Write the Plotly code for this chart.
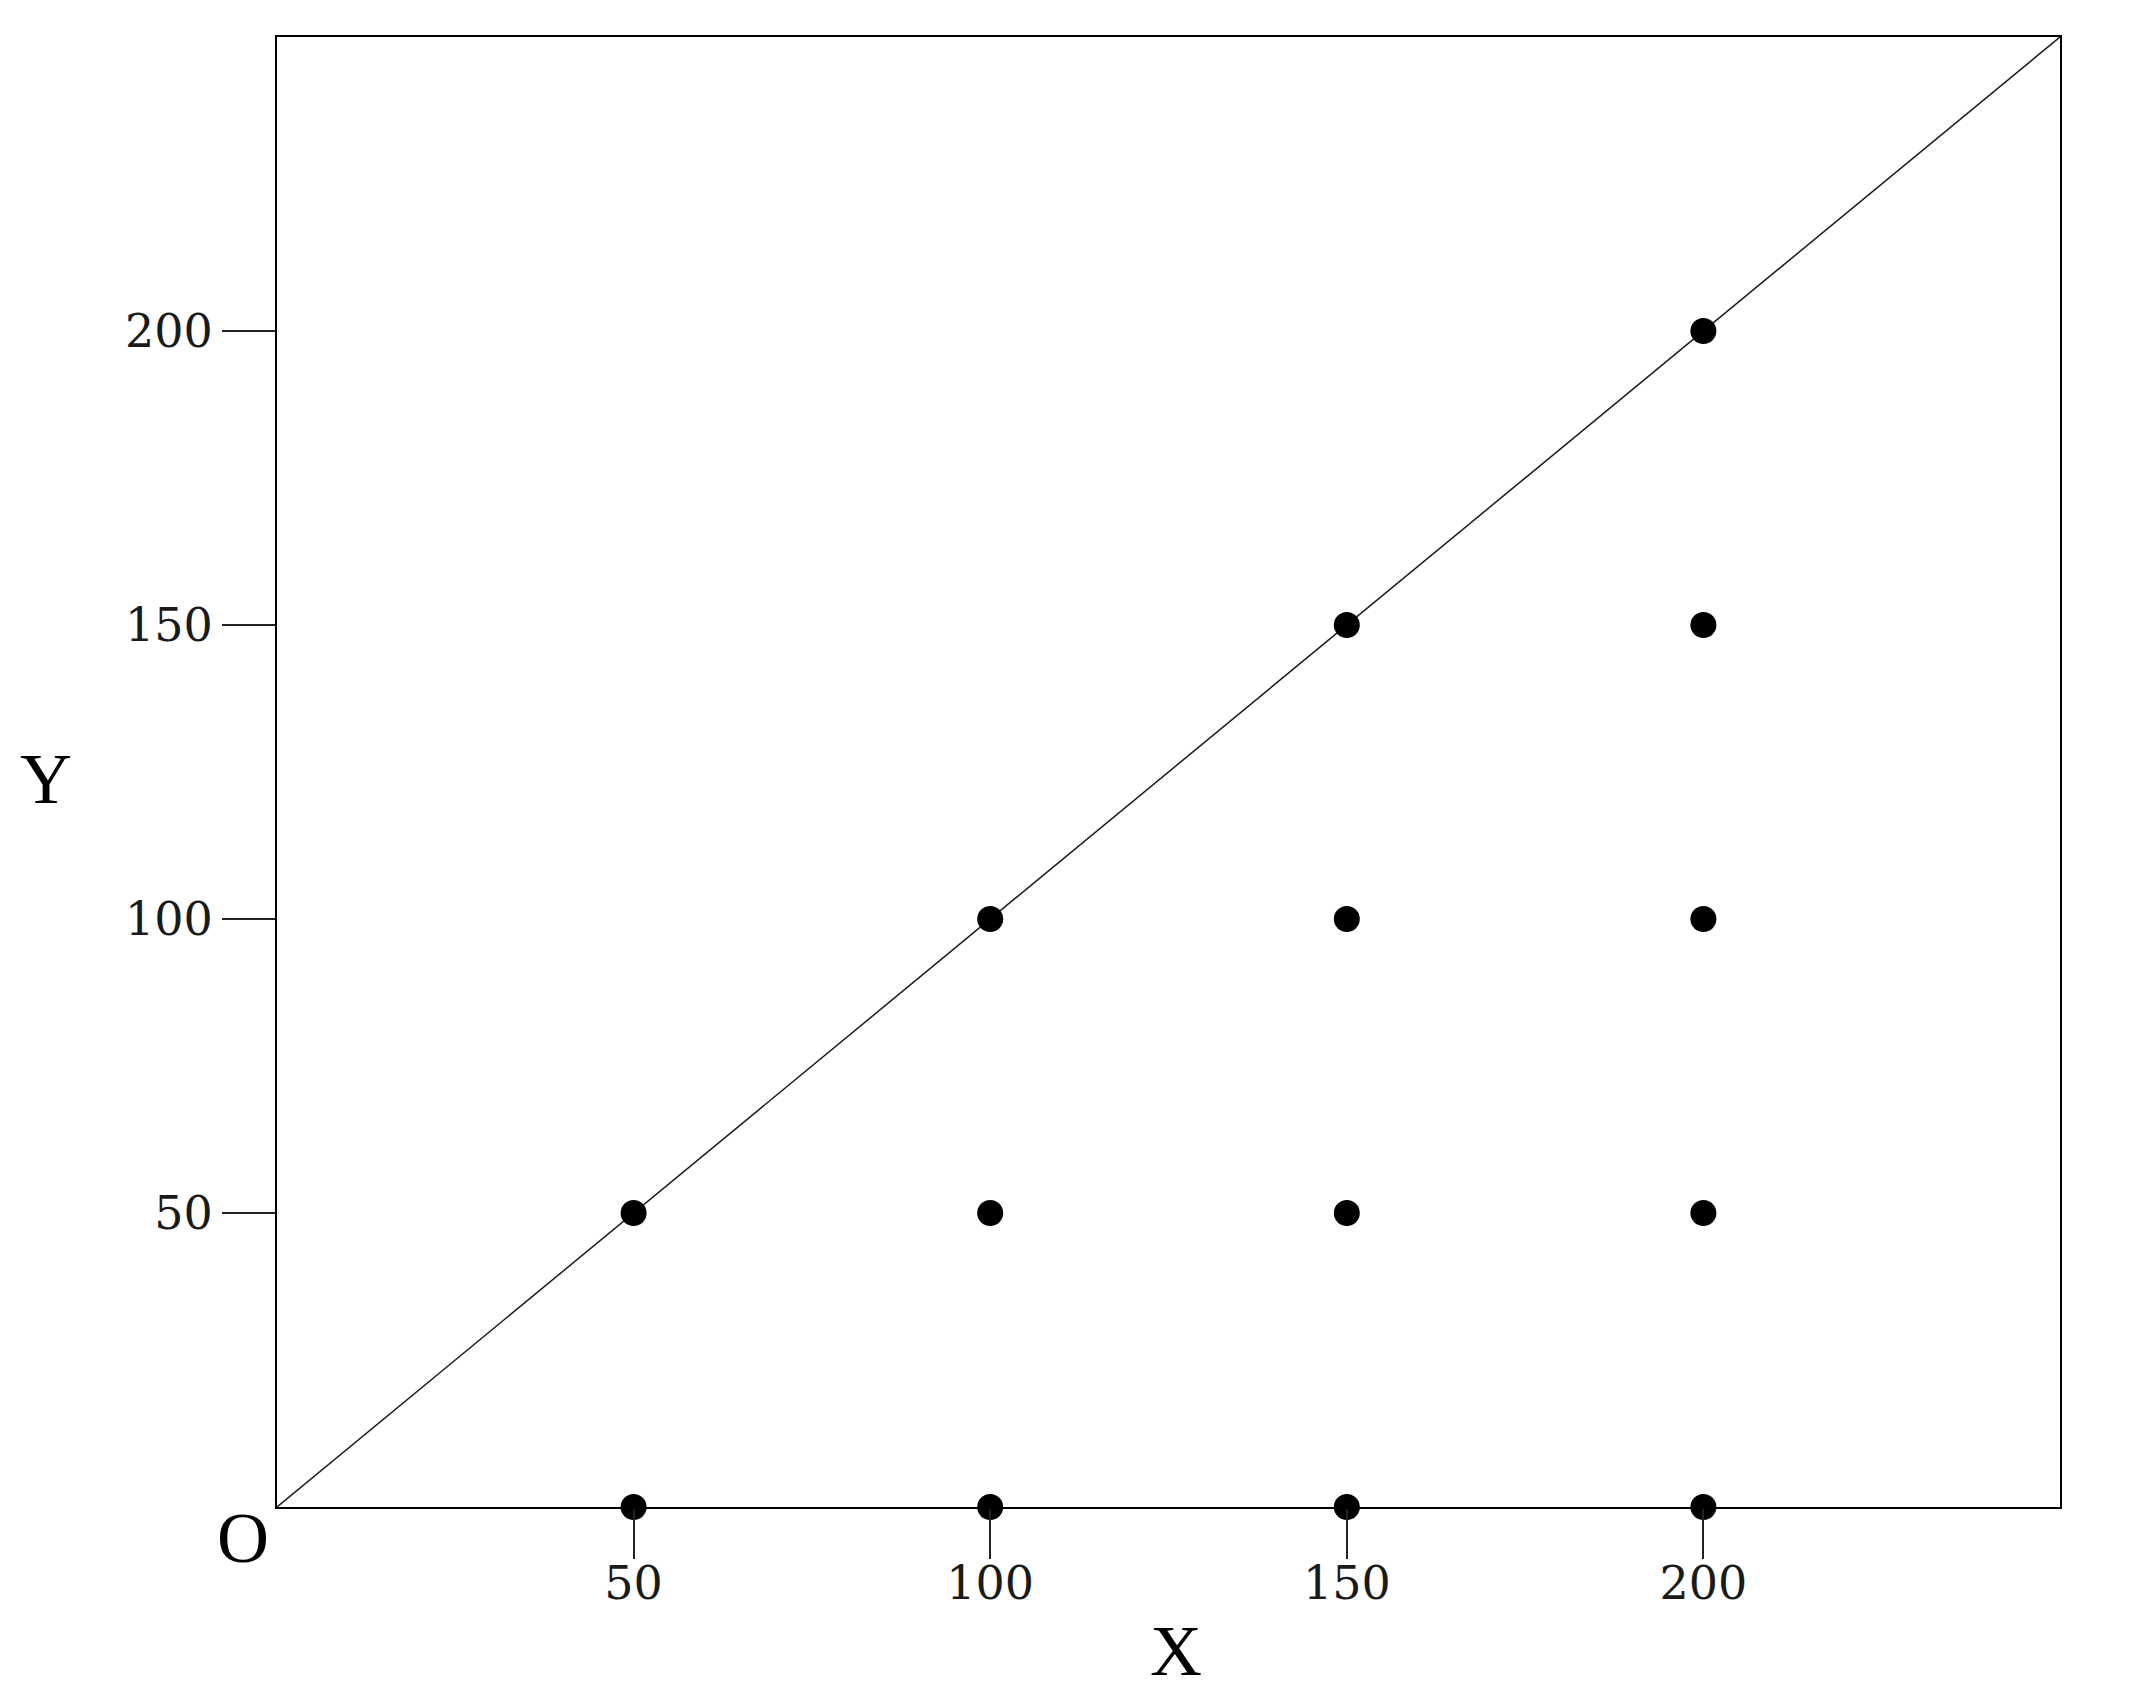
import plotly.graph_objects as go

# Data
point_x = [50, 100, 150, 200, 50, 100, 150, 200, 100, 150, 200, 150, 200, 200]
point_y = [0, 0, 0, 0, 50, 50, 50, 50, 100, 100, 100, 150, 150, 200]
line_x = [0, 250]
line_y = [0, 250]
tick_vals = [50, 100, 150, 200]
tick_text = ["50", "100", "150", "200"]
axis_range = [0, 250]

fig = go.Figure()
fig.add_trace(go.Scatter(x=line_x, y=line_y, mode="lines",
                         line=dict(color="#1a1a1a", width=1.5),
                         hoverinfo="skip", showlegend=False))
fig.add_trace(go.Scatter(x=point_x, y=point_y, mode="markers",
                         marker=dict(color="black", size=26, symbol="circle"),
                         cliponaxis=False, showlegend=False))

tickfont = dict(family="DejaVu Serif", size=46, color="#1a1a1a")
fig.update_xaxes(range=axis_range, tickvals=tick_vals, ticktext=tick_text,
                 ticks="outside", ticklen=50, tickwidth=2, tickcolor="#222",
                 showline=True, linewidth=2, linecolor="black", mirror=True,
                 showgrid=False, zeroline=False, tickfont=tickfont,
                 ticklabelstandoff=-15)
fig.update_yaxes(range=axis_range, tickvals=tick_vals, ticktext=tick_text,
                 ticks="outside", ticklen=53, tickwidth=2, tickcolor="#222",
                 showline=True, linewidth=2, linecolor="black", mirror=True,
                 showgrid=False, zeroline=False, tickfont=tickfont)

labfont = dict(family="Liberation Serif", size=72, color="black")
fig.add_annotation(x=0, y=0, xref="x", yref="y", text="O", showarrow=False,
                   xanchor="center", yanchor="middle", xshift=-34, yshift=-31,
                   font=labfont)
fig.add_annotation(x=-0.1296, y=0.495, xref="paper", yref="paper", text="Y",
                   showarrow=False, xanchor="center", yanchor="middle", font=labfont)
fig.add_annotation(x=0.504, y=-0.098, xref="paper", yref="paper", text="X",
                   showarrow=False, xanchor="center", yanchor="middle", font=labfont)

fig.update_layout(width=2131, height=1707, plot_bgcolor="white", paper_bgcolor="white",
                  margin=dict(l=269, r=79, t=29, b=208), showlegend=False)
fig.write_html("out.html")
